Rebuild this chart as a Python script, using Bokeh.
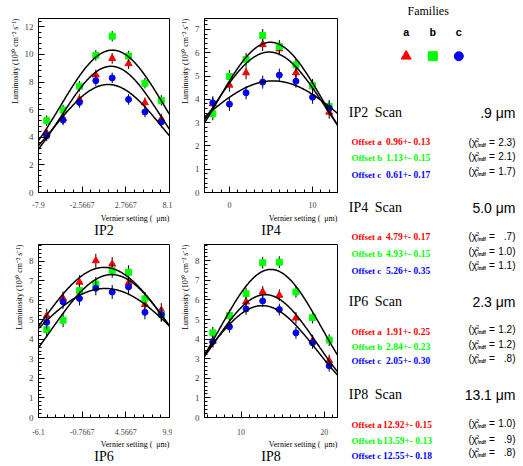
import numpy as np
from bokeh.plotting import figure
from bokeh.models import Range1d, FixedTicker, ColumnDataSource, Title
from bokeh.layouts import row, column
from bokeh.embed import file_html
from bokeh.resources import INLINE
from bokeh.core.properties import value

# ---------------- data ----------------
ip2_x = [-6.9, -4.9, -2.9, -0.9, 1.1, 3.1, 5.1, 7.1]
ip2_a = [4.29, 5.35, 6.74, 8.51, 9.71, 9.33, 6.50, 5.32]
ip2_b = [5.20, 5.97, 7.70, 9.93, 11.32, 9.88, 7.91, 6.67]
ip2_c = [4.10, 5.25, 6.52, 8.10, 8.30, 6.74, 5.83, 5.10]

ip4_x = [-2, 0, 2, 4, 6, 8, 10, 12]
ip4_a = [3.81, 4.61, 5.14, 6.35, 6.17, 5.14, 4.54, 3.45]
ip4_b = [3.38, 4.98, 5.71, 6.74, 6.27, 5.48, 4.59, 3.69]
ip4_c = [3.85, 3.79, 4.28, 4.74, 5.04, 4.78, 4.09, 3.62]

ip6_x = [-5.1, -3.1, -1.1, 0.9, 2.9, 4.9, 6.9, 8.9]
ip6_a = [5.20, 6.09, 6.92, 8.02, 7.85, 6.88, 5.78, 5.49]
ip6_b = [4.49, 4.98, 6.49, 6.83, 7.51, 7.43, 6.07, 5.27]
ip6_c = [4.87, 5.92, 6.09, 6.61, 6.42, 6.68, 5.38, 5.27]

ip8_x = [6.6, 8.6, 10.6, 12.6, 14.6, 16.6, 18.6, 20.6]
ip8_a = [3.90, 5.15, 5.90, 6.41, 6.24, 5.08, 3.92, 2.90]
ip8_b = [4.32, 5.20, 6.32, 7.90, 7.93, 6.41, 5.10, 3.95]
ip8_c = [3.88, 4.63, 5.54, 5.95, 5.51, 4.32, 3.81, 2.64]

errors = [0.38, 0.28, 0.36, 0.30]          # IP2, IP4, IP6, IP8

# Gaussian fit parameters (families a, b, c)
fit_amp = [[9.14, 10.31, 7.82], [6.03, 6.45, 4.79], [7.68, 7.31, 6.60], [6.27, 7.56, 5.71]]
fit_mean = [[0.96, 1.13, 0.61], [4.79, 4.93, 5.26], [1.91, 2.84, 2.05], [12.92, 13.59, 12.55]]
fit_sigma = [[6.07, 6.36, 6.59], [6.78, 6.38, 9.34], [8.02, 7.47, 9.46], [6.18, 6.10, 6.51]]
offset_err = [[0.13, 0.15, 0.17], [0.17, 0.15, 0.35], [0.25, 0.23, 0.30], [0.15, 0.13, 0.18]]
chi2 = [["2.3", "2.1", "1.7"], [".7", "1.0", "1.1"], ["1.2", "1.2", ".8"], ["1.0", ".9", ".8"]]
scan_names = ["IP2", "IP4", "IP6", "IP8"]
scan_sizes = [".9", "5.0", "2.3", "13.1"]
families = ["a", "b", "c"]

ip2_xticks = [-7.9, -2.5667, 2.7667, 8.1]
ip2_xlabels = ["-7.9", "-2.5667", "2.7667", "8.1"]
ip6_xticks = [-6.1, -0.7667, 4.5667, 9.9]
ip6_xlabels = ["-6.1", "-0.7667", "4.5667", "9.9"]
ip4_xticks = [0, 10]
ip4_xlabels = ["0", "10"]
ip8_xticks = [10, 20]
ip8_xlabels = ["10", "20"]

XLABEL = "Vernier setting (\u00a0\u00a0\u03bcm)"
YLABEL = "Luminosity (10\u00b3\u2070 cm\u207b\u00b2 s\u207b\u00b9)"

COLORS = ["#ff0000", "#00ff00", "#0000ff"]
MARKERS = ["triangle", "square", "circle"]
SERIF = "Liberation Serif"
SANS = "Liberation Sans"


def style_title(t, size, align, standoff):
    t.align = align
    t.text_font = SERIF
    t.text_font_size = size
    t.text_font_style = "normal"
    t.text_color = "black"
    if hasattr(t, "standoff"):
        try:
            t.standoff = standoff
        except Exception:
            t.standoff = 0
    t.offset = 0


def panel(title, xs, ys, err, amp, mean, sig, xr, yr, xticks, xlabels, xminor,
          ymajor, yminor, w, h, bl, br, bt, bb, ts, ls, tts):
    p = figure(width=w, height=h, x_range=Range1d(*xr), y_range=Range1d(*yr),
               output_backend="svg", toolbar_location=None,
               min_border_left=bl, min_border_right=br, min_border_top=bt,
               min_border_bottom=bb, title=title, title_location="below")
    p.grid.visible = False
    p.outline_line_color = "black"
    p.outline_line_width = 1
    p.background_fill_color = "white"
    p.border_fill_color = "white"
    style_title(p.title, "14px", "center", tts)

    xt = Title(text=XLABEL)
    style_title(xt, "8px", "right", ls)
    p.add_layout(xt, "below")
    yt = Title(text=YLABEL)
    style_title(yt, "8px", "right", 4)
    p.add_layout(yt, "left")

    xa = p.xaxis[0]
    xa.ticker = FixedTicker(ticks=xticks, minor_ticks=xminor)
    xa.major_label_overrides = {float(k): v for k, v in zip(xticks, xlabels)}
    ya = p.yaxis[0]
    ya.ticker = FixedTicker(ticks=ymajor, minor_ticks=yminor)
    for ax in (xa, ya):
        ax.major_tick_in = 6
        ax.major_tick_out = 0
        ax.minor_tick_in = 3
        ax.minor_tick_out = 0
        ax.axis_line_color = "black"
        ax.major_label_text_font = SERIF
        ax.major_label_text_font_size = "8px"
    ya.major_label_text_font_size = "9px"
    xa.major_label_standoff = ts
    ya.major_label_standoff = 5

    xx = np.linspace(xr[0], xr[1], 300)
    for k in range(3):
        src = ColumnDataSource(dict(x=xs, y=ys[k],
                                    lo=[v - err for v in ys[k]],
                                    hi=[v + err for v in ys[k]]))
        p.segment(x0="x", x1="x", y0="lo", y1="hi", source=src,
                  line_color="black", line_width=1)
        p.scatter(x="x", y="y", source=src, marker=MARKERS[k], size=6 if k else 7,
                  fill_color=COLORS[k], line_color=COLORS[k])
    for k in range(3):
        yy = amp[k] * np.exp(-((xx - mean[k]) ** 2) / (2 * sig[k] ** 2))
        p.line(xx, yy, line_color="black", line_width=1.5)
    return p


p2 = panel("IP2", ip2_x, [ip2_a, ip2_b, ip2_c], errors[0], fit_amp[0], fit_mean[0], fit_sigma[0],
           (-7.9, 8.1), (0, 12.6), ip2_xticks, ip2_xlabels,
           list(np.arange(-7.9, 8.2, 16 / 15)), list(range(0, 13, 2)), list(np.arange(0, 12.6, 0.4)),
           172, 240, 38, 3, 17, 48, 9, 2, -5)
p4 = panel("IP4", ip4_x, [ip4_a, ip4_b, ip4_c], errors[1], fit_amp[1], fit_mean[1], fit_sigma[1],
           (-3, 13), (0, 7.47), ip4_xticks, ip4_xlabels,
           list(range(-3, 14)), list(range(0, 8)), list(np.arange(0, 7.5, 0.2)),
           168, 240, 32, 3, 18, 48, 9, 2, -5)
p6 = panel("IP6", ip6_x, [ip6_a, ip6_b, ip6_c], errors[2], fit_amp[2], fit_mean[2], fit_sigma[2],
           (-6.1, 9.9), (0, 8.85), ip6_xticks, ip6_xlabels,
           list(np.arange(-6.1, 10.0, 16 / 15)), list(range(0, 9)), list(np.arange(0, 8.85, 0.2)),
           172, 226, 38, 3, 3, 49, 11, 0, -4)
p8 = panel("IP8", ip8_x, [ip8_a, ip8_b, ip8_c], errors[3], fit_amp[3], fit_mean[3], fit_sigma[3],
           (5.6, 21.6), (0, 8.83), ip8_xticks, ip8_xlabels,
           list(range(6, 22)), list(range(0, 9)), list(np.arange(0, 8.83, 0.2)),
           168, 226, 32, 3, 4, 48, 11, 0, -4)

# ---------------- text / legend panel ----------------
pt = figure(width=183, height=466, x_range=Range1d(0, 183), y_range=Range1d(466, 0),
            output_backend="svg", toolbar_location=None, min_border=0)
pt.axis.visible = False
pt.grid.visible = False
pt.outline_line_color = None
pt.background_fill_color = "white"
pt.border_fill_color = "white"


def txt(x, y, s, font, size, color="black", style="normal", align="left"):
    pt.text(x=[x], y=[y], text=[s], text_font=value(font), text_font_size=size,
            text_color=color, text_font_style=style, text_align=align,
            text_baseline="middle")


txt(87.7, 10, "Families", SERIF, "12px", align="center")
fam_x = [65.7, 92.3, 118.3]
for k in range(3):
    txt(fam_x[k], 32, families[k], "Liberation Mono", "11px", style="bold", align="center")
    pt.scatter(x=[fam_x[k]], y=[55.7], marker=MARKERS[k], size=10 if k == 0 else 9,
               fill_color=COLORS[k], line_color=COLORS[k])

head_y = [112, 207, 301, 394]
off_y = [[141, 157, 174], [236, 253, 270], [331, 346, 360], [424, 440, 455]]
chi_y = [[142, 156, 171], [236, 251, 265], [329, 344, 358], [423, 439, 452]]
for i in range(4):
    txt(8.3, head_y[i], scan_names[i], SERIF, "14px")
    txt(34.3, head_y[i], "Scan", SERIF, "14px")
    txt(175, head_y[i], scan_sizes[i] + " \u03bcm", SANS, "14px", align="right")
    for k in range(3):
        m = fit_mean[i][k]
        txt(11, off_y[i][k], "Offset " + families[k], SERIF, "9px", COLORS[k], "bold")
        txt(45.5 if m < 10 else 42.5, off_y[i][k], "%.2f+- %.2f" % (m, offset_err[i][k]),
            SERIF, "9.5px", COLORS[k], "bold")
        cy = chi_y[i][k]
        txt(128, cy, "(\u03c7", SANS, "10px")
        txt(135.5, cy - 3, "2", SANS, "5.5px")
        txt(137, cy + 2.5, "/ndf", SANS, "4.5px", style="bold")
        txt(148.5, cy, "=", SANS, "10px")
        txt(175, cy, chi2[i][k] + ")", SANS, "10px", align="right")

layout = row(column(row(p2, p4), row(p6, p8)), pt)
open("out.html", "w").write(file_html(layout, INLINE))
